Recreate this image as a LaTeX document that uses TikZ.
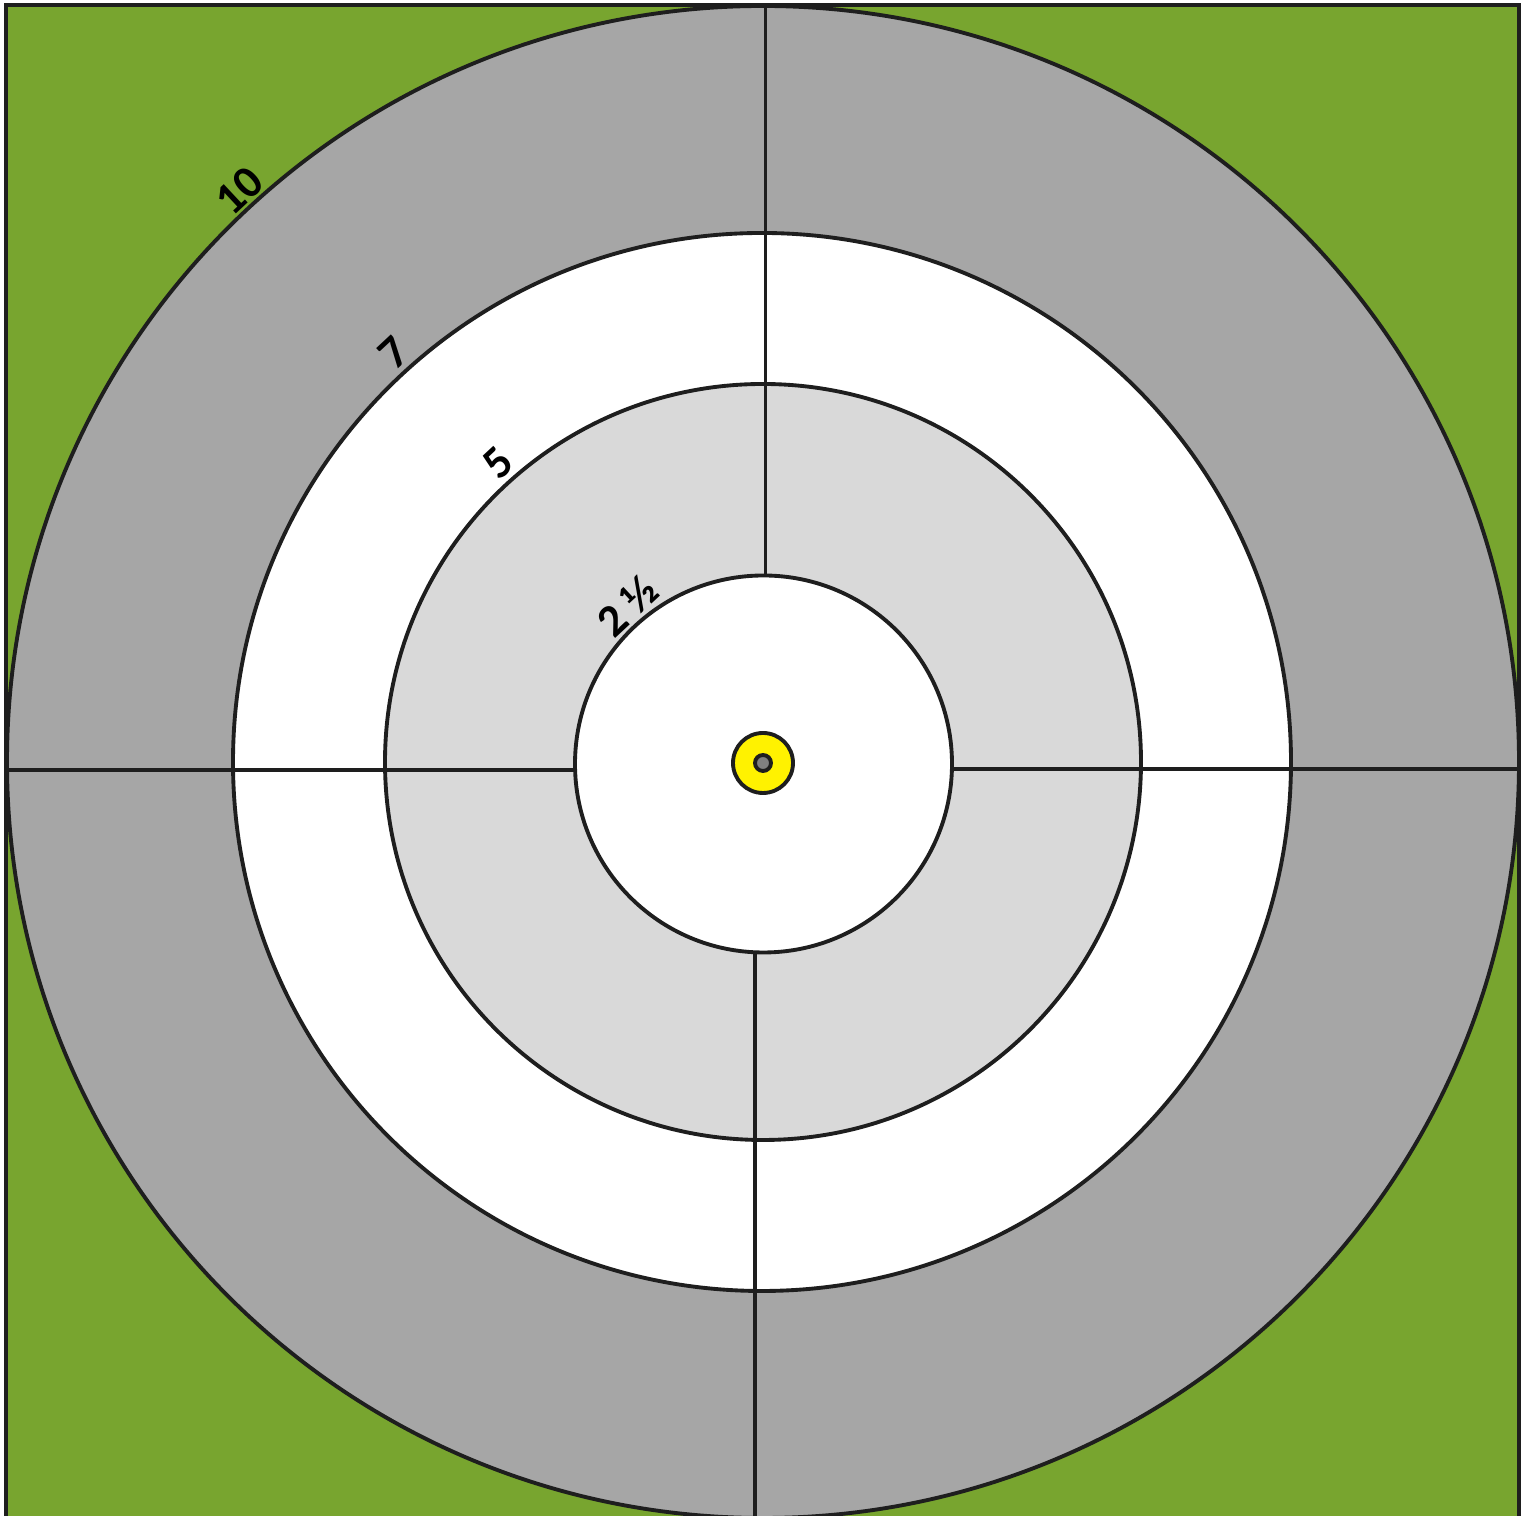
\documentclass[tikz,border=0pt]{standalone}
\usepackage{fontspec}
\newfontfamily\lblfont{Carlito}
\usepackage{tikz}
\usetikzlibrary{calc}

\definecolor{grassgreen}{HTML}{78A52F}
\definecolor{ringdark}{HTML}{A6A6A6}
\definecolor{ringlight}{HTML}{D9D9D9}
\definecolor{inkline}{HTML}{1E1E1E}

\begin{document}
\begin{tikzpicture}[
    ring/.style={circle, draw=inkline, line width=1.1pt, inner sep=0pt, outer sep=0pt, minimum size=#1},
    lbl/.style={font=\lblfont\bfseries\fontsize{13}{13}\selectfont, rotate=43, inner sep=0pt},
    cross/.style={draw=inkline, line width=1.1pt}
]
\useasboundingbox (0,0) rectangle (15.24,15.16);
\filldraw[fill=grassgreen, draw=inkline, line width=1.2pt] (0.06,-0.3) rectangle (15.19,15.11);

% target rings
\node[ring=15.12cm, fill=ringdark] (r10) at (7.63,7.54) {};
\node[ring=10.58cm, fill=white] (r7) at (7.62,7.54) {};
\node[ring=7.56cm, fill=ringlight] (r5) at (7.63,7.54) {};

% cross lines
\coordinate (ntop) at (7.655,15.11);
\coordinate (sbot) at (7.55,-0.2);
\coordinate (wlft) at (0.06,7.46);
\coordinate (erht) at (15.19,7.47);
\node[ring=3.77cm, fill=white] (r2) at (7.635,7.52) {};
\draw[cross] (ntop) -- (ntop |- r2.north);
\draw[cross] (sbot) -- (sbot |- r2.south);
\draw[cross] (wlft) -- (wlft -| r2.west);
\draw[cross] (erht) -- (erht -| r2.east);

% bull
\node[ring=0.6cm, fill=yellow] (bull) at (7.63,7.53) {};
\node[ring=0.16cm, fill=gray] (pin) at (bull.center) {};

% distances
\node[lbl] (l10) at ($(r10.center)+(132.5:7.75)$) {10};
\node[lbl] (l7) at ($(r10.center)+(132:5.51)$) {7};
\node[lbl] (l5) at ($(r10.center)+(131.5:4.00)$) {5};
\node[lbl] (l2) at ($(r10.center)+(131:2.07)$) {2 ½};
\end{tikzpicture}
\end{document}
